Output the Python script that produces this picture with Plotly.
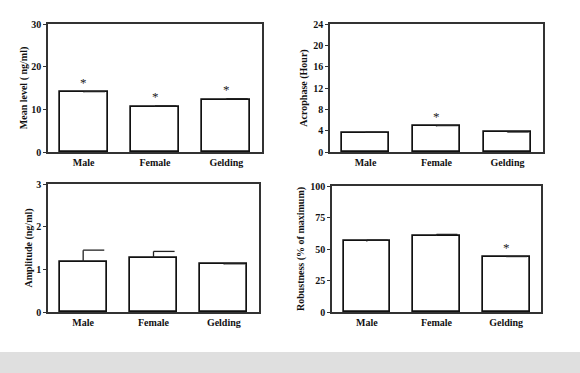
import plotly.graph_objects as go

categories = ["Male", "Female", "Gelding"]

mean_level = [14.0, 10.6, 12.3]
mean_level_err = [0.15, 0.2, 0.2]
mean_level_sig = [True, True, True]

acrophase = [3.6, 4.8, 3.7]
acrophase_err = [0.1, 0.15, 0.05]
acrophase_sig = [False, True, False]

amplitude = [1.17, 1.27, 1.12]
amplitude_err = [0.28, 0.15, 0.01]
amplitude_sig = [False, False, False]

robustness = [56.0, 60.3, 43.8]
robustness_err = [1.0, 1.3, 0.2]
robustness_sig = [False, False, True]

y_titles = ["Mean level ( ng/ml)", "Acrophase (Hour)", "Amplitude (ng/ml)", "Robustness (% of maximum)"]
y_ranges = [(0, 30), (0, 24), (0, 3), (0, 100)]
y_dticks = [10, 4, 1, 25]

panels = [
    (mean_level, mean_level_err, mean_level_sig),
    (acrophase, acrophase_err, acrophase_sig),
    (amplitude, amplitude_err, amplitude_sig),
    (robustness, robustness_err, robustness_sig),
]

W, H = 580, 373
# pixel boxes: left, right, top, bottom
boxes = [(48, 262, 24, 152), (330, 543, 24, 152), (48, 259, 184, 312), (332, 541, 186, 312)]
title_standoff = [2, 4, 2, 4]

FONT = "Liberation Serif"
fig = go.Figure()
annotations = []
xpos = list(range(len(categories)))
for k, (vals, errs, sig) in enumerate(panels):
    n = "" if k == 0 else str(k + 1)
    xa, ya = "x" + n, "y" + n
    fig.add_trace(go.Bar(
        x=xpos, y=vals, width=0.67, xaxis=xa, yaxis=ya,
        marker=dict(color="white", line=dict(color="#111", width=1.7)),
        showlegend=False, hoverinfo="y",
    ))
    # half-cap error bars (upper only), derived from data
    ex, ey = [], []
    for i, (v, e) in enumerate(zip(vals, errs)):
        ex += [i, i, None, i, i + 0.3, None]
        ey += [v, v + e, None, v + e, v + e, None]
    fig.add_trace(go.Scatter(
        x=ex, y=ey, mode="lines", xaxis=xa, yaxis=ya,
        line=dict(color="#222", width=1.3), showlegend=False, hoverinfo="skip",
    ))
    for i, (v, e, s) in enumerate(zip(vals, errs, sig)):
        if s:
            annotations.append(dict(
                x=i, y=v + e, xref=xa, yref=ya, text="*", showarrow=False,
                yanchor="middle", yshift=9,
                font=dict(family=FONT, size=13, color="#222"),
            ))
    l, r, t, b = boxes[k]
    common_font = dict(family=FONT, size=10, color="#111", weight="bold")
    fig.update_layout(**{
        ("xaxis" + n): dict(
            domain=[l / W, r / W], range=[-0.5, 2.5], anchor=ya, automargin=False,
            tickvals=xpos, ticktext=categories, ticks="",
            showline=True, linecolor="#333", linewidth=1.5, mirror=True,
            showgrid=False, zeroline=False, tickfont=dict(family=FONT, size=10, color="#111", weight="bold"),
            fixedrange=True,
        ),
        ("yaxis" + n): dict(
            domain=[1 - b / H, 1 - t / H], range=list(y_ranges[k]), anchor=xa, automargin=False,
            dtick=y_dticks[k], ticks="outside", ticklen=3, tickwidth=1.2, tickcolor="#333",
            showline=True, linecolor="#333", linewidth=1.5, mirror=True,
            showgrid=False, zeroline=False, tickfont=common_font,
            title=dict(text=y_titles[k], font=dict(family=FONT, size=10, color="#111", weight="bold"),
                       standoff=title_standoff[k]),
            fixedrange=True,
        ),
    })

fig.update_layout(
    width=W, height=H,
    margin=dict(l=0, r=0, t=0, b=0, autoexpand=False),
    paper_bgcolor="white", plot_bgcolor="white",
    annotations=annotations,
    shapes=[dict(type="rect", xref="paper", yref="paper", x0=0, x1=1, y0=0, y1=21 / H,
                 fillcolor="#dfdfdf", line=dict(width=0), layer="below")],
    bargap=0,
)

fig.write_html("out.html", config={"displayModeBar": False},
               post_script="document.body.style.margin='0';document.body.style.overflow='hidden';")
